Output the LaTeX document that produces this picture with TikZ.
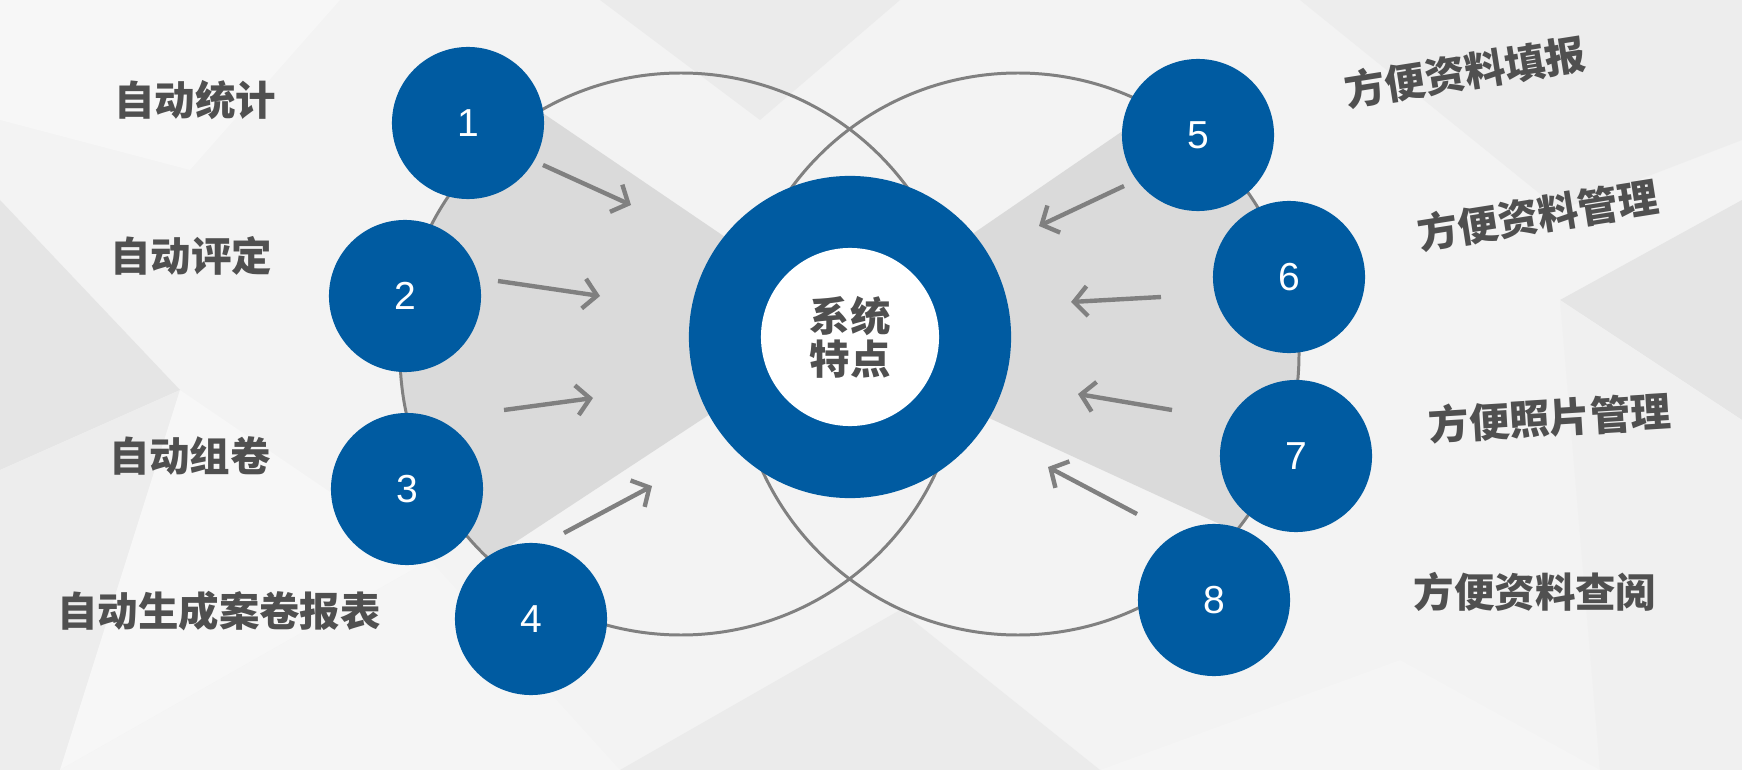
\documentclass[tikz,border=0pt]{standalone}
\usepackage{fontspec}
\setsansfont{Liberation Sans}
\newfontfamily\cjk{Noto Sans CJK SC}
\definecolor{ballblue}{RGB}{0,91,161}
\definecolor{labelgray}{RGB}{80,80,80}
\definecolor{wedgegray}{RGB}{218,218,218}
\definecolor{ringgray}{RGB}{128,128,128}
\definecolor{bgbase}{RGB}{243,243,243}
\usetikzlibrary{arrows.meta,positioning}
\tikzset{
  ball/.style={circle,fill=ballblue,minimum size=1.52cm,inner sep=0pt,
    text=white,font=\sffamily\fontsize{11.1}{13}\selectfont},
  featlabel/.style={text=labelgray,inner sep=0pt,
    font=\cjk\bfseries\fontsize{11.5}{13}\selectfont},
  facet/.style={fill=#1,draw=none}
}
\begin{document}
\begin{tikzpicture}[x=0.01cm,y=-0.01cm,
  arrow/.style={-{Straight Barb[length=3.8pt,width=8.5pt]},ringgray,line width=1.25pt},
  outline/.style={draw=ringgray,line width=0.85pt}
]
  \useasboundingbox (0,0) rectangle (1742,770);
  % background facets
  \fill[bgbase] (0,0) rectangle (1742,770);
  \fill[facet=white!97!black] (0,0) -- (340,0) -- (190,170) -- (0,120) -- cycle;
  \fill[facet=white!90!black] (0,200) -- (180,390) -- (0,470) -- cycle;
  \fill[facet=white!93!black] (0,470) -- (180,390) -- (60,770) -- (0,770) -- cycle;
  \fill[facet=white!97!black] (180,390) -- (430,560) -- (60,770) -- cycle;
  \fill[facet=white!96!black] (60,770) -- (430,560) -- (620,770) -- cycle;
  \fill[facet=white!92!black] (600,0) -- (900,0) -- (760,120) -- cycle;
  \fill[facet=white!93!black] (1300,0) -- (1742,0) -- (1742,140) -- (1560,210) -- cycle;
  \fill[facet=white!90!black] (1742,200) -- (1742,420) -- (1560,300) -- cycle;
  \fill[facet=white!94!black] (1560,300) -- (1742,420) -- (1742,770) -- (1600,770) -- cycle;
  \fill[facet=white!92!black] (620,770) -- (900,610) -- (1100,770) -- cycle;
  \fill[facet=white!96!black] (1100,770) -- (1400,660) -- (1600,770) -- cycle;

  % grey fans behind the core
  \begin{scope}
    \clip (681,354) circle (281);
    \fill[wedgegray] (850,322) -- (400,16) -- (380,16) -- (380,625) -- (400,618) -- cycle;
  \end{scope}
  \begin{scope}
    \clip (1018,354) circle (281);
    \fill[wedgegray] (850,318) -- (1270,30) -- (1400,30) -- (1400,607) -- (850,354) -- cycle;
  \end{scope}

  % the two rings
  \draw[outline] (681,354) circle (281);
  \draw[outline] (1018,354) circle (281);

  % core
  \node[circle,fill=ballblue,minimum size=3.22cm] (core) at (850,337) {};
  \node[circle,fill=white,minimum size=1.78cm,featlabel,align=center,
    font=\cjk\bfseries\fontsize{11.5}{12.3}\selectfont] (corelbl) at (core) {系统\\特点};

  % arrows
  \coordinate (a1s) at (543,165); \coordinate (a1e) at (631,205);
  \coordinate (a2s) at (498,281); \coordinate (a2e) at (600,296);
  \coordinate (a3s) at (504,410); \coordinate (a3e) at (593,398);
  \coordinate (a4s) at (564,533); \coordinate (a4e) at (652,486);
  \coordinate (a5s) at (1124,186); \coordinate (a5e) at (1039,226);
  \coordinate (a6s) at (1161,297); \coordinate (a6e) at (1071,302);
  \coordinate (a7s) at (1172,410); \coordinate (a7e) at (1078,394);
  \coordinate (a8s) at (1137,514); \coordinate (a8e) at (1048,467);
  \foreach \i in {1,...,8}
    \draw[arrow] (a\i s) -- (a\i e);

  % balls
  \node[ball] (n1) at (468,123) {1};
  \node[ball] (n2) at (405,296) {2};
  \node[ball] (n3) at (407,489) {3};
  \node[ball] (n4) at (531,619) {4};
  \node[ball] (n5) at (1198,135) {5};
  \node[ball] (n6) at (1289,277) {6};
  \node[ball] (n7) at (1296,456) {7};
  \node[ball] (n8) at (1214,600) {8};

  % labels
  \node[featlabel] (t1) at (195,100) {自动统计};
  \node[featlabel] (t2) at (191,256) {自动评定};
  \node[featlabel] (t3) at (190,456) {自动组卷};
  \node[featlabel] (t4) at (219,611) {自动生成案卷报表};
  \node[featlabel,rotate=9] (t5) at (1465,72) {方便资料填报};
  \node[featlabel,rotate=9] (t6) at (1538,215) {方便资料管理};
  \node[featlabel,rotate=3.5] (t7) at (1550,418) {方便照片管理};
  \node[featlabel] (t8) at (1535,592) {方便资料查阅};
\end{tikzpicture}
\end{document}
